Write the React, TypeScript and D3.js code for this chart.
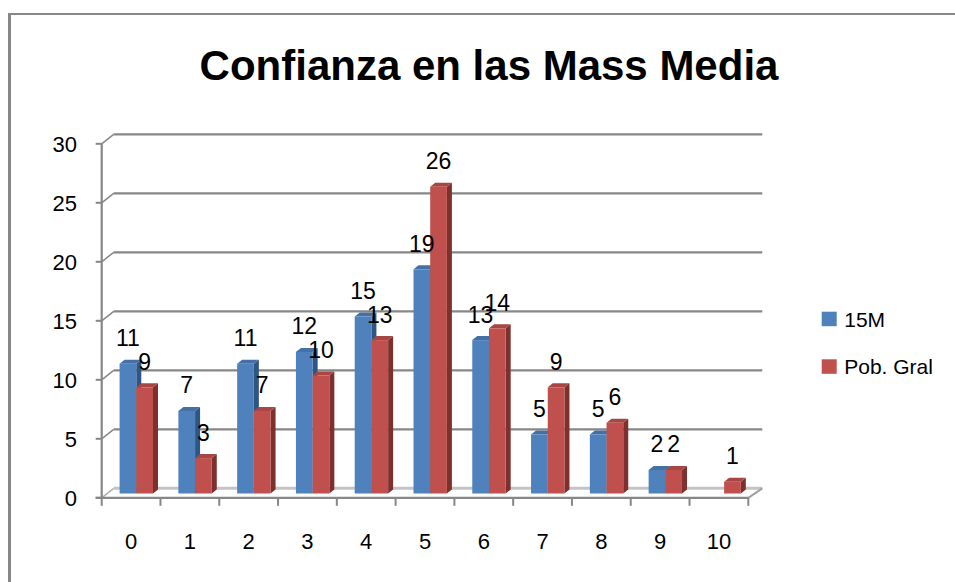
import React from "react";
import * as d3 from "d3";

const categories = ["0", "1", "2", "3", "4", "5", "6", "7", "8", "9", "10"];
const seriesNames = ["15M", "Pob. Gral"];
const values15M = [11, 7, 11, 12, 15, 19, 13, 5, 5, 2, 0];
const valuesPob = [9, 3, 7, 10, 13, 26, 14, 9, 6, 2, 1];
const yTicks = [0, 5, 10, 15, 20, 25, 30];

const W = 955;
const H = 582;
const FONT = "'Liberation Sans', Arial, sans-serif";
const GRID = "#878787";

const colors = [
  { front: "#4f81bd", top: "#4470a6", side: "#2f5585" },
  { front: "#c0504d", top: "#a84643", side: "#7d302e" },
];

export default function App() {
  const x = d3.scaleBand<string>().domain(categories).range([101.7, 748.3]).padding(0);
  const inner = d3
    .scaleBand<string>()
    .domain(seriesNames)
    .range([0, x.bandwidth()])
    .paddingInner(0)
    .paddingOuter(0.76);
  const y = d3.scaleLinear().domain([0, 30]).range([497.8, 143.8]);

  // depth of plot (back wall offset)
  const wallDx = 12;
  const wallDy = -9.5;
  // bar front-face offset and bar depth
  const barDx = 5.2;
  const barDy = -4.3;
  const depDx = 5;
  const depDy = -4;

  const data = [values15M, valuesPob];
  const xEnd = x.range()[1];
  const xStart = x.range()[0];

  return (
    <div style={{ position: "fixed", left: 0, top: 0 }}>
      <svg width={W} height={H} style={{ display: "block", background: "#fff" }}>
        {/* outer border */}
        <line x1={9.5} y1={14} x2={9.5} y2={H} stroke={GRID} strokeWidth={3} />
        <line x1={8} y1={14} x2={W} y2={14} stroke={GRID} strokeWidth={2} />

        {/* title */}
        <text
          x={489}
          y={80}
          textAnchor="middle"
          fontFamily={FONT}
          fontWeight="bold"
          fontSize={42}
          fill="#000"
        >
          Confianza en las Mass Media
        </text>

        {/* back wall gridlines + side diagonals */}
        {yTicks.map((t) => {
          const yf = y(t);
          const isZero = t === 0;
          return (
            <g key={"g" + t}>
              <line
                x1={xStart + wallDx}
                x2={xEnd + wallDx + 2}
                y1={yf + wallDy}
                y2={yf + wallDy}
                stroke={isZero ? "#c4c4c4" : GRID}
                strokeWidth={isZero ? 3 : 2.2}
              />
              <line
                x1={xStart}
                y1={yf}
                x2={xStart + wallDx}
                y2={yf + wallDy}
                stroke={isZero ? "#b0b0b0" : GRID}
                strokeWidth={1.5}
              />
              <line x1={xStart - 6} x2={xStart} y1={yf} y2={yf} stroke={GRID} strokeWidth={2} />
              <text
                x={77}
                y={yf + 8}
                textAnchor="end"
                fontFamily={FONT}
                fontSize={22}
                fill="#000"
              >
                {t}
              </text>
            </g>
          );
        })}

        {/* floor right diagonal */}
        <line
          x1={xEnd}
          y1={y(0)}
          x2={xEnd + wallDx + 2}
          y2={y(0) + wallDy}
          stroke="#a0a0a0"
          strokeWidth={2}
        />

        {/* bars */}
        {categories.map((c, i) => (
          <g key={"c" + c}>
            {seriesNames.map((s, si) => {
              const v = data[si][i];
              if (!v) return null;
              const bx = (x(c) as number) + (inner(s) as number) + barDx;
              const bw = inner.bandwidth();
              const by0 = y(0) + barDy;
              const by1 = y(v) + barDy;
              const col = colors[si];
              return (
                <g key={s}>
                  <path
                    d={`M${bx + bw},${by1} L${bx + bw + depDx},${by1 + depDy} L${bx + bw + depDx},${by0 + depDy} L${bx + bw},${by0} Z`}
                    fill={col.side}
                  />
                  <path
                    d={`M${bx},${by1} L${bx + depDx},${by1 + depDy} L${bx + bw + depDx},${by1 + depDy} L${bx + bw},${by1} Z`}
                    fill={col.top}
                  />
                  <rect x={bx} y={by1} width={bw} height={by0 - by1} fill={col.front} />
                </g>
              );
            })}
          </g>
        ))}

        {/* y axis line */}
        <line x1={xStart} x2={xStart} y1={y(30)} y2={y(0)} stroke={GRID} strokeWidth={2.2} />
        {/* x axis line */}
        <line x1={xStart - 6} x2={xEnd} y1={y(0)} y2={y(0)} stroke={GRID} strokeWidth={2.2} />
        {/* x ticks */}
        {[...categories.map((c) => x(c) as number), xEnd].map((tx, k) => (
          <line key={"xt" + k} x1={tx} x2={tx} y1={y(0)} y2={y(0) + 8} stroke={GRID} strokeWidth={2} />
        ))}
        {/* x labels */}
        {categories.map((c) => (
          <text
            key={"xl" + c}
            x={(x(c) as number) + x.bandwidth() / 2}
            y={549}
            textAnchor="middle"
            fontFamily={FONT}
            fontSize={22}
            fill="#000"
          >
            {c}
          </text>
        ))}

        {/* data labels */}
        {categories.map((c, i) =>
          seriesNames.map((s, si) => {
            const v = data[si][i];
            if (!v) return null;
            const bx = (x(c) as number) + (inner(s) as number) + barDx;
            const bw = inner.bandwidth();
            return (
              <text
                key={"dl" + c + s}
                x={bx + bw / 2}
                y={y(v) + barDy - 17.5}
                textAnchor="middle"
                fontFamily={FONT}
                fontSize={23}
                fill="#000"
              >
                {v}
              </text>
            );
          })
        )}

        {/* legend */}
        {seriesNames.map((s, si) => (
          <g key={"lg" + s} transform={`translate(821.7, ${311.7 + si * 47.6})`}>
            <rect x={0} y={0} width={15} height={14.5} fill={colors[si].front} />
            <text x={22.5} y={15} fontFamily={FONT} fontSize={21} fill="#000">
              {s}
            </text>
          </g>
        ))}
      </svg>
    </div>
  );
}
